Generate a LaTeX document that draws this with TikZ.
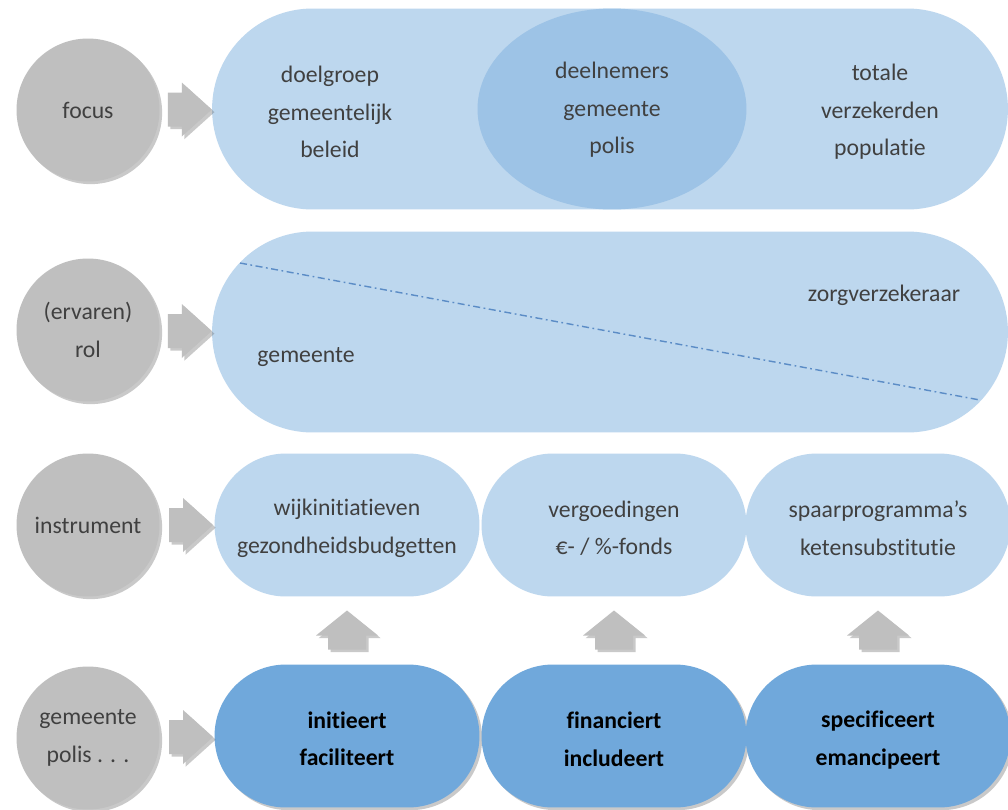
\documentclass[tikz,border=0pt]{standalone}
\usepackage{fontspec}
\setmainfont[Ligatures=NoCommon]{Carlito}
\usetikzlibrary{shapes.misc,shapes.geometric,shadows,calc,positioning}
\definecolor{circgray}{HTML}{BFBFBF}
\definecolor{lightblue}{HTML}{BDD7EE}
\definecolor{midblue}{HTML}{9DC3E6}
\definecolor{darkblue}{HTML}{70A8DB}
\definecolor{lineblue}{HTML}{5B8CC6}
\definecolor{txtgray}{HTML}{404040}
\tikzset{
  shade/.style={drop shadow={shadow xshift=1.5pt,shadow yshift=-1.5pt,opacity=0.35,fill=black!60}},
  rarrow/.pic={\fill[circgray,shade] (-18,-17) -- (-4,-17) -- (-4,-27) -- (26,0) -- (-4,27) -- (-4,17) -- (-18,17) -- cycle;},
  uarrow/.pic={\fill[circgray,shade] (-19,19) -- (-19,5) -- (-31,5) -- (0,-20) -- (31,5) -- (19,5) -- (19,19) -- cycle;}
}
\begin{document}
\begin{tikzpicture}[x=0.02cm,y=-0.02cm,
    txt/.style={align=center,text=txtgray,font=\fontsize{13.5}{21.3}\selectfont},
    btxt/.style={align=center,text=black,font=\fontsize{13.5}{21.3}\selectfont\bfseries},
    topic/.style={circle,fill=circgray,minimum size=2.86cm,inner sep=0pt,shade},
    band/.style={rounded rectangle,fill=lightblue,minimum width=15.92cm,minimum height=4.02cm,inner sep=0pt},
    pill/.style={rounded rectangle,fill=lightblue,minimum width=5.3cm,minimum height=2.86cm,inner sep=0pt},
    dpill/.style={pill,fill=darkblue,shade}]
  \useasboundingbox (0,0) rectangle (1008,809);
  \fill[white] (0,0) rectangle (1008,809);

  \node[topic] (cfocus) at (88,110) {};
  \node[topic] (crol) at (88,330) {};
  \node[topic] (cinstr) at (88,525) {};
  \node[topic] (cpolis) at (88,738) {};
  \node[txt] at (cfocus) {focus};
  \node[txt] at (crol) {(ervaren)\\rol};
  \node[txt] at (cinstr) {instrument};
  \node[txt] at (cpolis) {gemeente\\polis . . .};

  \node[band] (focus) at (610,109) {};
  \node[ellipse,fill=midblue,minimum width=5.38cm,minimum height=4.02cm,inner sep=0pt] (deeln) at (612,109) {};
  \node[txt] (doelgr) at (330,112) {doelgroep\\gemeentelijk\\beleid};
  \node[txt] at ([yshift=-0.4pt]deeln.center) {deelnemers\\gemeente\\polis};
  \node[txt] (totaal) at (880,112) {totale\\verzekerden\\populatie};

  \node[band] (rol) at (610,332) {};
  \coordinate (rs) at (240,263);
  \coordinate (re) at (980,400);
  \draw[lineblue,line width=0.8pt,dash pattern=on 4pt off 2pt on 1pt off 2pt] (rs) -- (re);
  \node[txt] (zv) at (884,295) {zorgverzekeraar};
  \node[txt] (gm) at (306,357) {gemeente};

  \node[pill] (wijk) at (347,525) {};
  \node[pill] (verg) at (614,525) {};
  \node[pill] (spaar) at (878,525) {};
  \node[txt] at ([yshift=-1.9pt]wijk.center) {wijkinitiatieven\\gezondheidsbudgetten};
  \node[txt] at ([yshift=-1.9pt]verg.center) {vergoedingen\\€- / \%-fonds};
  \node[txt] at ([yshift=-1.9pt]spaar.center) {spaarprogramma’s\\ketensubstitutie};

  \node[dpill] (init) at (347,736) {};
  \node[dpill] (fin) at (614,736) {};
  \node[dpill] (spec) at (878,736) {};
  \node[btxt] at ([yshift=-1.6pt]init.center) {initieert\\faciliteert};
  \node[btxt] at ([yshift=-1.9pt]fin.center) {financiert\\includeert};
  \node[btxt] at ([yshift=-2.3pt]spec.center) {specificeert\\emancipeert};

  \pic at ($(cfocus.east)!0.5!(focus.west)$) {rarrow};
  \pic at ($(crol.east)!0.5!(rol.west)$) {rarrow};
  \pic at ($(cinstr.east)!0.5!(wijk.west)$) {rarrow};
  \pic at ($(cpolis.east)!0.5!(init.west)$) {rarrow};
  \pic at ($(init.north)!0.5!(wijk.south)$) {uarrow};
  \pic at ($(fin.north)!0.5!(verg.south)$) {uarrow};
  \pic at ($(spec.north)!0.5!(spaar.south)$) {uarrow};
\end{tikzpicture}
\end{document}
